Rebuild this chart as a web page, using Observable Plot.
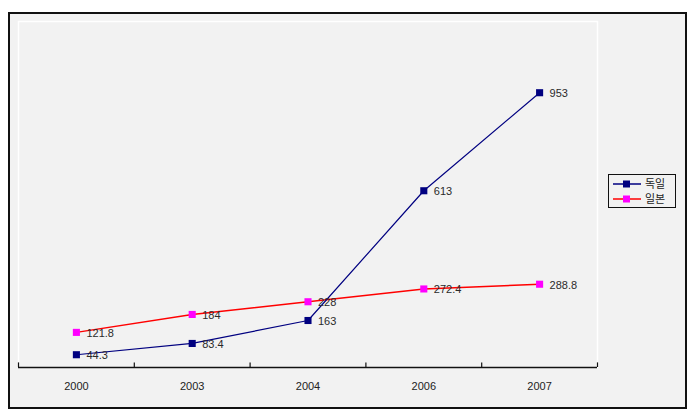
<!DOCTYPE html>
<html>
<head>
<meta charset="utf-8">
<script src="https://cdn.jsdelivr.net/npm/d3@7"></script>
<script src="https://cdn.jsdelivr.net/npm/@observablehq/plot@0.6"></script>
<style>
  html, body { margin: 0; padding: 0; background: #ffffff; }
  #wrap { position: relative; width: 697px; height: 415px; font-family: "Liberation Sans", Arial, sans-serif; }
  #frame { position: absolute; left: 8px; top: 12px; width: 675px; height: 393px; border: 2px solid #111; background: #f2f2f2; }
  #chart { position: absolute; left: 0; top: 0; }
  #legend { position: absolute; left: 608px; top: 174px; width: 66px; height: 32px; border: 1px solid #111; background: #f2f2f2; font-family: "Noto Sans CJK KR", sans-serif; font-size: 11px; color: #222; overflow: hidden; }
  .row { position: absolute; left: 3px; height: 15px; white-space: nowrap; }
  .row svg { position: absolute; left: 0; top: 3px; }
  .row span { position: absolute; left: 33px; top: 0; line-height: 15px; height: 15px; }
</style>
</head>
<body>
<div id="wrap">
  <div id="frame"></div>
  <div id="chart"></div>
  <div id="legend"></div>
</div>
<script>
const years = ["2000", "2003", "2004", "2006", "2007"];
const germany = [44.3, 83.4, 163, 613, 953];
const japan = [121.8, 184, 228, 272.4, 288.8];
const seriesNames = ["독일", "일본"];
const labelsGermany = ["44.3", "83.4", "163", "613", "953"];
const labelsJapan = ["121.8", "184", "228", "272.4", "288.8"];

const lineColors = ["#000080", "#ff0000"];
const markColors = ["#000080", "#ff00ff"];

const rows = [];
years.forEach((yr, i) => {
  rows.push({i, year: yr, series: seriesNames[0], value: germany[i], label: labelsGermany[i]});
});
years.forEach((yr, i) => {
  rows.push({i, year: yr, series: seriesNames[1], value: japan[i], label: labelsJapan[i]});
});
const idx = years.map((_, i) => i);
const bounds = d3.range(years.length + 1).map(i => i - 0.5);

const plot = Plot.plot({
  width: 697,
  height: 415,
  marginLeft: 18,
  marginRight: 100,
  marginTop: 21,
  marginBottom: 48,
  style: {background: "transparent", fontFamily: "Liberation Sans, Arial, sans-serif", fontSize: "11px"},
  x: {type: "linear", domain: [-0.5, years.length - 0.5], axis: null},
  y: {domain: [0, 1200], axis: null},
  marks: [
    Plot.frame({stroke: "#ffffff", strokeWidth: 1.5}),
    Plot.line(rows.filter(d => d.series === seriesNames[1]), {x: "i", y: "value", stroke: lineColors[1], strokeWidth: 1.4}),
    Plot.line(rows.filter(d => d.series === seriesNames[0]), {x: "i", y: "value", stroke: lineColors[0], strokeWidth: 1.2}),
    Plot.dot(rows.filter(d => d.series === seriesNames[1]), {x: "i", y: "value", symbol: "square", r: 4, fill: markColors[1], stroke: null}),
    Plot.dot(rows.filter(d => d.series === seriesNames[0]), {x: "i", y: "value", symbol: "square", r: 4, fill: markColors[0], stroke: null}),
    Plot.text(rows, {x: "i", y: "value", text: "label", textAnchor: "start", dx: 10, dy: 1, fill: "#2a2a2a", fontSize: 11}),
    Plot.ruleY([0], {stroke: "#111", strokeWidth: 1.5}),
    Plot.ruleX(bounds, {x: d => d, y1: 0, y2: 16, stroke: "#111", strokeWidth: 1.2}),
    Plot.text(idx, {x: d => d, y: 0, text: d => years[d], dy: 19, fill: "#222", fontSize: 11})
  ]
});
document.getElementById("chart").appendChild(plot);

const legend = document.getElementById("legend");
seriesNames.forEach((name, k) => {
  const row = document.createElement("div");
  row.className = "row";
  row.style.top = (1 + k * 15) + "px";
  row.innerHTML = `<svg width="30" height="10"><line x1="1" x2="29" y1="5" y2="5" stroke="${lineColors[k]}" stroke-width="1.5"/><rect x="11" y="1.5" width="7" height="7" fill="${markColors[k]}"/></svg><span>${name}</span>`;
  legend.appendChild(row);
});
</script>
</body>
</html>
